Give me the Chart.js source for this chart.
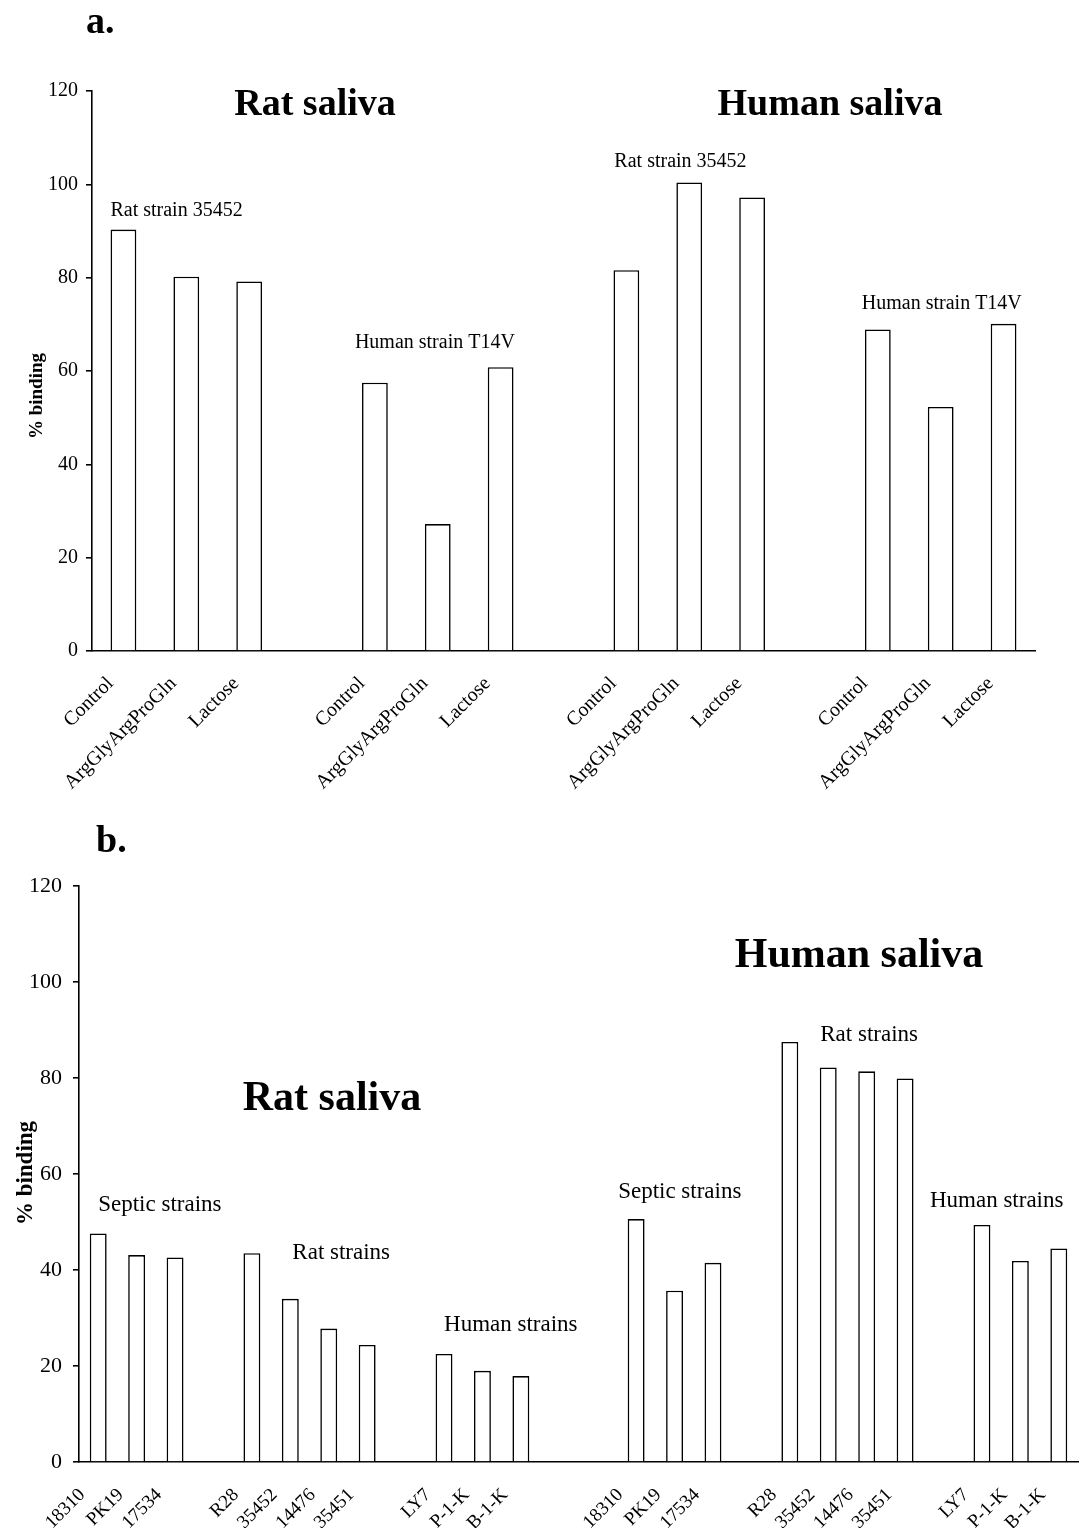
<!DOCTYPE html>
<html>
<head>
<meta charset="utf-8">
<script src="https://cdn.jsdelivr.net/npm/chart.js@4.4.1/dist/chart.umd.min.js"></script>
<style>
  html, body { margin: 0; padding: 0; background: #fff; }
  body { width: 1082px; height: 1530px; position: relative; overflow: hidden; }
  .panel { position: absolute; left: 0; width: 1082px; }
  #panelA { top: 0; height: 800px; }
  #panelB { top: 800px; height: 730px; }
</style>
</head>
<body>
<div class="panel" id="panelA"><canvas id="chartA"></canvas></div>
<div class="panel" id="panelB"><canvas id="chartB"></canvas></div>
<script>
// panel a data
const treatments = ['Control', 'ArgGlyArgProGln', 'Lactose'];
const ratSalivaRatStrain = [90.3, 80.2, 79.2];
const ratSalivaHumanStrain = [57.5, 27.2, 60.8];
const humanSalivaRatStrain = [81.6, 100.4, 97.2];
const humanSalivaHumanStrain = [68.9, 52.3, 70.1];

// panel b data
const septicStrains = ['18310', 'PK19', '17534'];
const ratStrains = ['R28', '35452', '14476', '35451'];
const humanStrains = ['LY7', 'P-1-K', 'B-1-K'];
const ratSalivaSeptic = [47.6, 43.1, 42.6];
const ratSalivaRat = [43.5, 34.0, 27.8, 24.4];
const ratSalivaHuman = [22.5, 19.0, 17.9];
const humanSalivaSeptic = [50.6, 35.7, 41.5];
const humanSalivaRat = [87.5, 82.2, 81.4, 79.9];
const humanSalivaHuman = [49.4, 41.9, 44.5];

const yTicks = [0, 20, 40, 60, 80, 100, 120];

const SERIF = '"Liberation Serif", "Times New Roman", serif';

// join groups with empty slots between them
function joinGroups(groups, gaps) {
  let labels = [], values = [];
  groups.forEach((g, i) => {
    labels = labels.concat(g[0]);
    values = values.concat(g[1]);
    if (i < groups.length - 1) {
      for (let k = 0; k < gaps[i]; k++) { labels.push(''); values.push(null); }
    }
  });
  return { labels, values };
}

const dataA = joinGroups([
  [treatments, ratSalivaRatStrain],
  [treatments, ratSalivaHumanStrain],
  [treatments, humanSalivaRatStrain],
  [treatments, humanSalivaHumanStrain]
], [1, 1, 1]);

const dataB = joinGroups([
  [septicStrains, ratSalivaSeptic],
  [ratStrains, ratSalivaRat],
  [humanStrains, ratSalivaHuman],
  [septicStrains, humanSalivaSeptic],
  [ratStrains, humanSalivaRat],
  [humanStrains, humanSalivaHuman]
], [1, 1, 2, 1, 1]);

// text drawn on top of the chart
const textPlugin = {
  id: 'texts',
  afterDraw(chart, args, opts) {
    const ctx = chart.ctx;
    const x = chart.scales.x, y = chart.scales.y;
    ctx.save();
    ctx.fillStyle = '#000';
    (opts.fixed || []).forEach(t => {
      ctx.save();
      ctx.font = t.font;
      ctx.textAlign = t.align || 'left';
      ctx.textBaseline = 'alphabetic';
      ctx.translate(t.x, t.y);
      if (t.rotate) ctx.rotate(t.rotate);
      ctx.fillText(t.text, 0, 0);
      ctx.restore();
    });
    (opts.notes || []).forEach(n => {
      ctx.font = n.font;
      ctx.textAlign = 'left';
      ctx.textBaseline = 'middle';
      ctx.fillText(n.text, x.getPixelForValue(n.cat) + n.dx, y.getPixelForValue(n.value));
    });
    ctx.restore();
  }
};

function makeChart(id, d, cfg) {
  return new Chart(document.getElementById(id), {
    type: 'bar',
    data: {
      labels: d.labels,
      datasets: [{
        data: d.values,
        backgroundColor: '#ffffff',
        borderColor: '#000000',
        borderWidth: 1.6,
        barPercentage: cfg.barPct,
        categoryPercentage: 1
      }]
    },
    options: {
      responsive: true,
      maintainAspectRatio: false,
      animation: false,
      layout: { padding: cfg.padding },
      plugins: {
        legend: { display: false },
        tooltip: { enabled: false },
        texts: { fixed: cfg.fixed, notes: cfg.notes }
      },
      scales: {
        x: {
          grid: { display: false },
          border: { display: true, color: '#000', width: 1.6 },
          ticks: {
            color: '#000',
            font: { family: SERIF, size: cfg.xFont },
            maxRotation: 45, minRotation: 45,
            autoSkip: false,
            padding: cfg.xPad,
            labelOffset: cfg.xShift
          },
          afterFit: s => {
            s.height = cfg.xHeight;
            s.paddingLeft = 0;
            s.paddingRight = 0;
          }
        },
        y: {
          min: 0, max: 120,
          afterBuildTicks: s => { s.ticks = yTicks.map(v => ({ value: v })); },
          grid: { display: true, drawOnChartArea: false, drawTicks: true, tickLength: 6, color: '#000', lineWidth: 1.6 },
          border: { display: true, color: '#000', width: 1.6 },
          ticks: {
            color: '#000',
            font: { family: SERIF, size: cfg.yFont },
            padding: cfg.yPad
          },
          afterFit: s => { s.width = cfg.yWidth; }
        }
      }
    },
    plugins: [textPlugin]
  });
}

makeChart('chartA', dataA, {
  barPct: 0.41,
  padding: { top: 91, right: 47, left: 0, bottom: 9 },
  xHeight: 140, xFont: 20, xPad: 13, xShift: -13,
  yWidth: 92, yFont: 20, yPad: 8,
  fixed: [
    { text: 'a.', x: 86, y: 33, font: 'bold 38px ' + SERIF },
    { text: 'Rat saliva', x: 315, y: 115, align: 'center', font: 'bold 38px ' + SERIF },
    { text: 'Human saliva', x: 830, y: 115, align: 'center', font: 'bold 38px ' + SERIF },
    { text: '% binding', x: 42, y: 396, align: 'center', rotate: -Math.PI / 2, font: 'bold 19px ' + SERIF }
  ],
  notes: [
    { text: 'Rat strain 35452', cat: 0, dx: -13, value: 94.3, font: '20px ' + SERIF },
    { text: 'Human strain T14V', cat: 4, dx: -20, value: 66.1, font: '20px ' + SERIF },
    { text: 'Rat strain 35452', cat: 8, dx: -12, value: 104.8, font: '20px ' + SERIF },
    { text: 'Human strain T14V', cat: 12, dx: -16, value: 74.5, font: '20px ' + SERIF }
  ]
});

makeChart('chartB', dataB, {
  barPct: 0.44,
  padding: { top: 86, right: 4, left: 0, bottom: 2 },
  xHeight: 66, xFont: 19, xPad: 14, xShift: -16,
  yWidth: 79, yFont: 22, yPad: 11,
  fixed: [
    { text: 'b.', x: 96, y: 52, font: 'bold 38px ' + SERIF },
    { text: 'Human saliva', x: 859, y: 167, align: 'center', font: 'bold 42px ' + SERIF },
    { text: 'Rat saliva', x: 332, y: 310, align: 'center', font: 'bold 42px ' + SERIF },
    { text: '% binding', x: 32, y: 373, align: 'center', rotate: -Math.PI / 2, font: 'bold 23px ' + SERIF }
  ],
  notes: [
    { text: 'Septic strains', cat: 0, dx: 0, value: 53.5, font: '23px ' + SERIF },
    { text: 'Rat strains', cat: 5, dx: 2, value: 43.5, font: '23px ' + SERIF },
    { text: 'Human strains', cat: 9, dx: 0, value: 28.5, font: '23px ' + SERIF },
    { text: 'Septic strains', cat: 14, dx: -18, value: 56.3, font: '23px ' + SERIF },
    { text: 'Rat strains', cat: 19, dx: -8, value: 89, font: '23px ' + SERIF },
    { text: 'Human strains', cat: 23, dx: -52, value: 54.4, font: '23px ' + SERIF }
  ]
});
</script>
</body>
</html>
